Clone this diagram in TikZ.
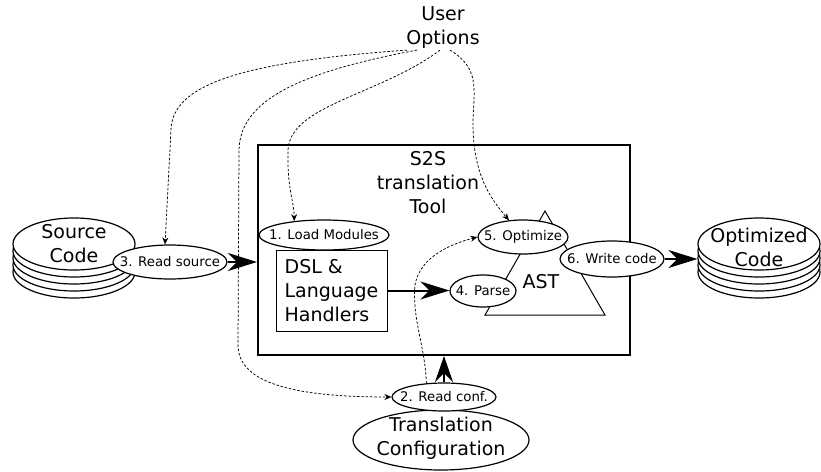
\documentclass[tikz,border=0pt]{standalone}
\usepackage{fontspec}
\setmainfont{DejaVu Sans}
\usetikzlibrary{arrows.meta,calc,shapes.geometric}
\begin{document}
\begin{tikzpicture}[x=1pt,y=-1pt,
 big/.style={font=\fontsize{19}{24}\selectfont, align=center, inner sep=1pt},
 small/.style={font=\fontsize{13.3}{15}\selectfont},
 ell/.style={ellipse, draw, fill=white, line width=1.2pt, inner sep=0pt},
 disk/.style={ell, minimum width=122pt, minimum height=52pt},
 bigarrow/.style={line width=2pt, -{Stealth[length=#1,width=18pt,inset=9pt]}},
 bigarrow/.default=29pt,
 dasharrow/.style={line width=0.75pt, dash pattern=on 2.5pt off 1.8pt, -{Stealth[length=7pt,width=6pt]}},
]
\useasboundingbox (0,0) rectangle (821,471);

% main tool box
\node[draw, line width=2pt, minimum width=372pt, minimum height=210pt, inner sep=0pt] (box) at (444,250) {};
\node[big] (title) at (428,183) {S2S\\translation\\Tool};

% AST triangle
\draw[line width=1pt] (545,211) coordinate (astTop) -- (485,315) -- (605,315) -- cycle;
\node[big] (ast) at (541,282) {AST};

% source code stack
\foreach \k in {4,3,2,1} \node[disk] (src\k) at (74,{244+7*\k}) {};
\node[disk, label={[big]center:Source\\Code}] (src) at (74,244) {};

% optimized code stack
\foreach \k in {4,3,2,1} \node[disk] (opt\k) at (759,{244+7*\k}) {};
\node[disk, label={[big,yshift=-3pt]center:Optimized\\Code}] (opt) at (759,244) {};

% DSL handlers
\node[draw, line width=0.8pt, minimum width=111pt, minimum height=81pt, big, align=left] (dsl) at (331.5,290.5) {DSL \&\\Language\\Handlers};

% translation configuration
\node[ell, minimum width=176pt, minimum height=60pt, label={[big,yshift=2pt]center:Translation\\Configuration}] (tc) at (441,440) {};

% step ellipses
\node[ell, minimum width=114pt, minimum height=34pt, label={[small]center:3. Read source}] (rs) at (170,262) {};
\node[ell, minimum width=130pt, minimum height=30pt, label={[small]center:1. Load Modules}] (lm) at (324,235) {};
\node[ell, minimum width=66pt, minimum height=32pt, label={[small]center:4. Parse}] (pa) at (483,291) {};
\node[ell, minimum width=90pt, minimum height=34pt, label={[small]center:5. Optimize}] (op) at (523,237) {};
\node[ell, minimum width=104pt, minimum height=36pt, label={[small]center:6. Write code}] (wc) at (612,259) {};
\node[ell, minimum width=104pt, minimum height=28pt, label={[small]center:2. Read conf.}] (rc) at (444,397) {};

% user options
\node[big] (uo) at (443,28) {User\\Options};

% thick arrows
\draw[bigarrow] (rs.east) -- (rs.east -| box.west);
\draw[bigarrow] (dsl.east) -- (dsl.east -| pa.west);
\draw[bigarrow] (wc.east) -- (wc.east -| opt.west);
\draw[bigarrow=26pt] (rc.north) -- (rc.north |- box.south);

% dashed option flows
\draw[dasharrow] ([xshift=-36pt]uo.south) .. controls (240,62) and (172,85) .. (171,130) -- ([xshift=-5pt]rs.north);
\draw[dasharrow] ([xshift=-26pt]uo.south) .. controls (300,72) and (240,100) .. (239,150) -- (238,345) .. controls (238,385) and (300,397) .. (rc.west);
\draw[dasharrow] ([xshift=-3pt]uo.south) .. controls (380,95) and (290,105) .. (288,150) .. controls (287,190) and (294,200) .. (lm.155);
\draw[dasharrow] ([xshift=7pt]uo.south) .. controls (480,68) and (474,90) .. (473,120) .. controls (472,175) and (492,200) .. (op.130);
\draw[dasharrow] (rc.142) .. controls (425,345) and (412,320) .. (415,285) .. controls (420,255) and (455,243) .. (op.west);
\end{tikzpicture}
\end{document}
